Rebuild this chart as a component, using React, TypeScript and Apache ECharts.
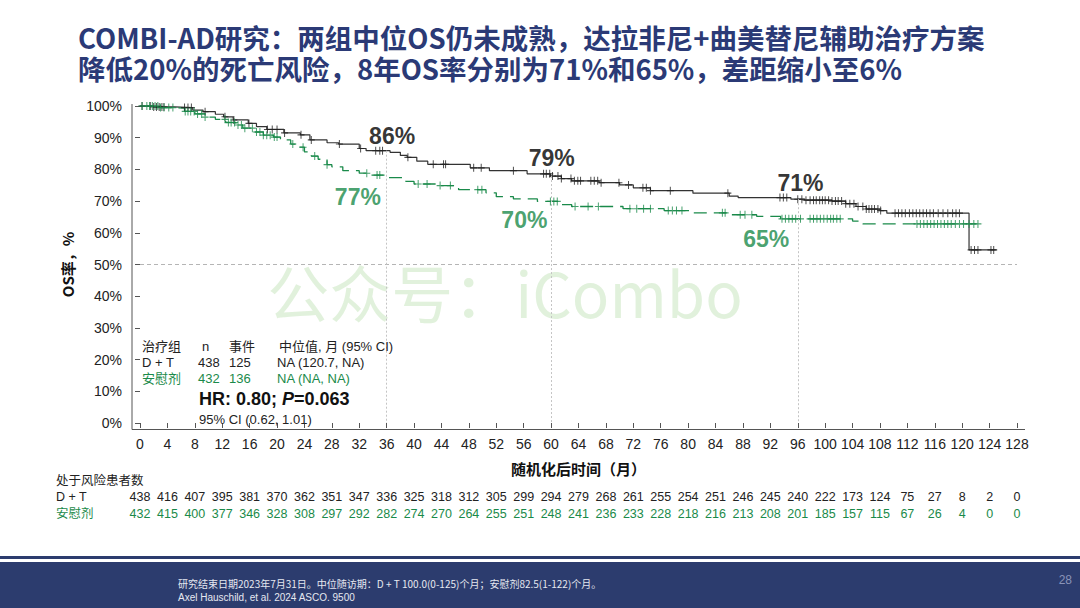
import React, { useEffect, useRef } from "react";
import * as echarts from "echarts";

// ---------- data ----------
const riskDT = [438, 416, 407, 395, 381, 370, 362, 351, 347, 336, 325, 318, 312, 305, 299, 294, 279, 268, 261, 255, 254, 251, 246, 245, 240, 222, 173, 124, 75, 27, 8, 2, 0];
const riskPbo = [432, 415, 400, 377, 346, 328, 308, 297, 292, 282, 274, 270, 264, 255, 251, 248, 241, 236, 233, 228, 218, 216, 213, 208, 201, 185, 157, 115, 67, 26, 4, 0, 0];

// KM steps: [month, survival % after the drop]
const dtSteps: [number, number][] = [
  [0, 100], [2, 99.7], [5, 99.5], [7.7, 98.7], [9.2, 98.2], [11, 97.4], [12.2, 96.6], [13.6, 95.6], [15.8, 94.5], [17, 93.5],
  [18.5, 92.6], [21, 91.5], [23.4, 90.9], [24.8, 89.3], [27.3, 88.4], [29, 88], [32, 86.6], [33, 85.9], [36.5, 85.4], [38, 84.4],
  [39, 83.8], [40.4, 82.6], [42, 81.6], [48.2, 80.5], [51, 79.6], [56.5, 78.6], [59.9, 77.9], [61.5, 77.1], [63, 76.4], [67, 75.8],
  [70, 75.1], [72, 74.2], [74.5, 73.3], [80.7, 72.5], [86, 71.6], [87.3, 71.1], [95, 70.6], [97, 70.3], [101, 70], [103, 69.2],
  [104.5, 68.3], [106, 67.5], [108, 67], [109, 66.2], [121, 54.6], [125, 54.6],
];
const pboSteps: [number, number][] = [
  [0, 100], [3, 99.5], [5, 99.3], [6.5, 98.3], [8, 97.5], [9.5, 96.5], [11, 95.8], [12.5, 94.8], [14, 94], [15, 93],
  [16.5, 91.8], [18, 90.8], [19.5, 90.2], [20.5, 89.3], [22, 88], [23, 87], [24, 85.5], [25, 84.2], [26, 83.2], [27.3, 81.5],
  [28, 80.8], [29.6, 79.6], [32, 78.8], [33.5, 78.2], [36, 77.4], [38.8, 76.2], [40, 75.4], [43.5, 74.9], [46.5, 73.6], [50.5, 72.6],
  [52, 71.4], [54.5, 70.7], [58, 69.9], [61.3, 68.9], [63, 68.3], [70.5, 67.6], [76.5, 67], [80.5, 66.3], [86, 65.7], [90, 65.2],
  [93.5, 64.4], [104, 63.7], [105.5, 62.8], [123, 62.8],
];

// censored observations (months)
const dtCensor = [0.3, 1.5, 2, 2.4, 2.8, 3.2, 3.5, 6.5, 7, 7.5, 9.5, 12.4, 13.7, 15.9, 18.6, 19.3, 20, 21.1, 23.5, 25, 29.1, 32.2, 34.4, 35, 35.4, 39.1, 42.8, 44.3, 44.6, 48.7, 49.8, 54.5, 58.9, 59.3, 59.8, 60.2, 61, 61.5, 62.9, 63.4, 63.9, 64.3, 65.8, 66.3, 66.8, 67.3, 69.9, 71.3, 73.4, 73.9, 74.5, 77.4, 85.8, 93.4, 93.9, 94.4, 96, 96.6, 97.2, 97.8, 98.3, 98.7, 99.2, 99.6, 100, 100.5, 101, 101.5, 101.9, 102.4, 103, 103.6, 104.2, 104.8, 105.5, 106, 106.4, 106.8, 107.2, 107.7, 108.1, 110.2, 110.7, 111.2, 111.7, 112.3, 112.8, 113.3, 113.8, 114.3, 114.8, 115.3, 115.8, 116.5, 117.2, 117.9, 118.6, 119.1, 119.6, 121.3, 121.8, 122.3, 124.2, 124.6];
const pboCensor = [0.3, 1, 1.4, 1.8, 2.2, 2.6, 3, 3.5, 4.2, 4.8, 6.6, 7, 7.4, 7.9, 8.4, 9, 9.5, 12.4, 12.9, 13.3, 13.8, 14.3, 14.8, 15.3, 16.4, 17, 17.5, 18, 18.5, 19, 19.6, 20, 22.3, 23.8, 25.5, 27.3, 33.1, 34.6, 35, 40.6, 41.9, 43.8, 45.3, 49.3, 49.9, 59.9, 60.4, 60.9, 63.5, 65.4, 66.9, 71.5, 72.5, 73.5, 74.5, 77.1, 77.7, 78.3, 79.1, 85, 85.4, 87.6, 88.3, 89.3, 93.7, 94.2, 94.7, 95.2, 95.7, 96.4, 97.8, 98.3, 98.8, 99.3, 99.8, 100.3, 100.8, 101.2, 101.7, 102.2, 113.4, 113.9, 114.4, 114.9, 115.4, 115.9, 116.4, 116.9, 117.4, 117.9, 118.4, 119, 119.6, 120.2, 121, 121.7, 122.3];

const landmarks = [36, 60, 96];
// reported landmark rates: [label x, label y, text, arm]
const rateLabels: [number, number, string, string][] = [
  [36.8, 90.5, "86%", "dt"], [31.8, 71.3, "77%", "pbo"],
  [60.1, 83.6, "79%", "dt"], [56.1, 64.0, "70%", "pbo"],
  [96.4, 75.7, "71%", "dt"], [91.4, 58.0, "65%", "pbo"],
];

const BLACK = "#222222";
const GREEN = "#1a8a4a";
const NAVY = "#2b3a76";
const PLUS = "path://M-1,-7h2v6h6v2h-6v6h-2v-6h-6v-2h6z";

function survivalAt(steps: [number, number][], t: number) {
  let s = steps[0][1];
  for (const [tt, v] of steps) {
    if (tt <= t) s = v;
    else break;
  }
  return s;
}

export default function App() {
  const ref = useRef<HTMLDivElement>(null);
  useEffect(() => {
    if (!ref.current) return;
    const chart = echarts.init(ref.current, null, { renderer: "svg" });
    const sans = "Liberation Sans, Arial, sans-serif";
    const cjk = "Noto Sans CJK SC, sans-serif";
    const riskAxis = (vals: number[], color: string, offset: number) => ({
      type: "value",
      min: 0,
      max: 128,
      interval: 4,
      position: "bottom",
      offset,
      axisLine: { show: false },
      axisTick: { show: false },
      splitLine: { show: false },
      axisLabel: {
        margin: 0,
        color,
        fontSize: 12.5,
        fontFamily: sans,
        formatter: (v: number) => String(vals[Math.round(v / 4)]),
      },
    });
    const option: any = {
      animation: false,
      backgroundColor: "#ffffff",
      grid: { left: 140, right: 63, top: 106, bottom: 185 },
      xAxis: [
        {
          type: "value",
          min: 0,
          max: 128,
          interval: 4,
          offset: 6,
          axisLine: { show: false },
          axisTick: { show: true, length: 5, lineStyle: { color: "#555" } },
          splitLine: { show: false },
          axisLabel: { color: "#222", fontSize: 14, fontFamily: "Liberation Sans Narrow, " + sans, margin: 8 },
          name: "随机化后时间（月）",
          nameLocation: "middle",
          nameGap: 32,
          nameTextStyle: { fontWeight: "bold", fontSize: 15, color: "#111", fontFamily: cjk },
        },
        riskAxis(riskDT, "#222", 67),
        riskAxis(riskPbo, GREEN, 84),
      ],
      yAxis: {
        type: "value",
        min: 0,
        max: 100,
        interval: 10,
        offset: 8,
        axisLine: { show: false },
        axisTick: { show: true, length: 5, lineStyle: { color: "#555" } },
        splitLine: { show: false },
        axisLabel: { color: "#222", fontSize: 14, fontFamily: sans, margin: 10, formatter: "{value}%" },
        name: "OS率，%",
        nameLocation: "middle",
        nameGap: 56,
        nameRotate: 90,
        nameTextStyle: { fontWeight: "bold", fontSize: 15, color: "#111", fontFamily: cjk },
      },
      series: [
        {
          type: "line",
          step: "end",
          data: dtSteps,
          showSymbol: false,
          lineStyle: { color: "#333", width: 1.2 },
          z: 3,
          markLine: {
            silent: true,
            symbol: "none",
            label: { show: false },
            data: [
              { yAxis: 50, lineStyle: { type: [4, 3], color: "#b5b5b5", width: 1 } },
              ...landmarks.map((m) => [
                { coord: [m, survivalAt(dtSteps, m)], lineStyle: { type: [2, 2], color: "#c4c4c4", width: 1 } },
                { coord: [m, 0] },
              ]),
            ],
          },
        },
        {
          type: "line",
          step: "end",
          data: pboSteps,
          showSymbol: false,
          lineStyle: { color: GREEN, width: 1.3, type: [13, 7] },
          z: 3,
        },
        {
          type: "scatter",
          data: dtCensor.map((t) => [t, survivalAt(dtSteps, t)]),
          symbol: PLUS,
          symbolSize: [7, 8],
          itemStyle: { color: BLACK },
          z: 4,
        },
        {
          type: "scatter",
          data: pboCensor.map((t) => [t, survivalAt(pboSteps, t)]),
          symbol: PLUS,
          symbolSize: [7, 8],
          itemStyle: { color: GREEN },
          z: 4,
        },
        {
          type: "scatter",
          symbolSize: 0,
          silent: true,
          z: 5,
          data: rateLabels.map(([x, y, txt, arm]) => ({
            value: [x, y],
            label: {
              show: true,
              position: "inside",
              formatter: txt,
              fontSize: 23,
              fontWeight: "bold",
              fontFamily: sans,
              color: arm === "dt" ? "#000" : GREEN,
            },
          })),
        },
      ],
      graphic: [
        // axis lines (extend past the data range as in the reference)
        { type: "line", shape: { x1: 132, y1: 104, x2: 132, y2: 429.5 }, style: { stroke: "#555", lineWidth: 1 } },
        { type: "line", shape: { x1: 132, y1: 429.5, x2: 1025, y2: 429.5 }, style: { stroke: "#555", lineWidth: 1 } },
        // title
        {
          type: "text",
          left: 78,
          top: 22,
          style: {
            text: "COMBI-AD研究：两组中位OS仍未成熟，达拉非尼+曲美替尼辅助治疗方案",
            font: "bold 27.5px 'Noto Sans CJK SC', sans-serif",
            lineHeight: 30,
            fill: NAVY,
          },
        },
        {
          type: "text",
          left: 78,
          top: 53,
          style: {
            text: "降低20%的死亡风险，8年OS率分别为71%和65%，差距缩小至6%",
            font: "bold 27.5px 'Noto Sans CJK SC', sans-serif",
            lineHeight: 30,
            fill: NAVY,
          },
        },
        // watermark
        {
          type: "text",
          x: 505,
          y: 291,
          style: {
            text: "公众号：iCombo",
            font: "62px 'Noto Sans CJK SC', sans-serif",
            lineHeight: 62,
            fill: "rgba(140,200,120,0.26)",
            align: "center",
            verticalAlign: "middle",
          },
          z: 0,
        },
        // legend table
        ...[
          ["治疗组", 142, 346, "#222"], ["n", 202, 346, "#222"], ["事件", 229, 346, "#222"], ["中位值, 月 (95% CI)", 279, 346, "#222"],
          ["D + T", 142, 362, "#222"], ["438", 198, 362, "#222"], ["125", 229, 362, "#222"], ["NA (120.7, NA)", 277, 362, "#222"],
          ["安慰剂", 142, 378, GREEN], ["432", 198, 378, GREEN], ["136", 229, 378, GREEN], ["NA (NA, NA)", 277, 378, GREEN],
          ["95% CI (0.62, 1.01)", 199, 419, "#222"],
        ].map(([t, x, y, c]) => ({
          type: "text",
          x,
          y,
          z: 10,
          style: { text: t, font: "13px 'Liberation Sans', 'Noto Sans CJK SC', sans-serif", fill: c, verticalAlign: "middle" },
        })),
        {
          type: "text",
          x: 199,
          y: 399,
          z: 10,
          style: {
            text: "{b|HR: 0.80; }{i|P}{b|=0.063}",
            verticalAlign: "middle",
            rich: {
              b: { font: "bold 18px 'Liberation Sans', sans-serif", fill: "#111" },
              i: { font: "italic bold 18px 'Liberation Sans', sans-serif", fill: "#111" },
            },
          },
        },
        // risk table labels
        ...[
          ["处于风险患者数", 481, "#222"],
          ["D + T", 497, "#222"],
          ["安慰剂", 514, GREEN],
        ].map(([t, y, c]) => ({
          type: "text",
          x: 56,
          y,
          style: { text: t, font: "12.5px 'Liberation Sans', 'Noto Sans CJK SC', sans-serif", fill: c, verticalAlign: "middle" },
        })),
        // footer
        { type: "rect", shape: { x: 0, y: 556, width: 1080, height: 3 }, style: { fill: "#2c3c6e" } },
        { type: "rect", shape: { x: 0, y: 562, width: 1080, height: 46 }, style: { fill: "#2c3c6e" } },
        {
          type: "text",
          x: 178,
          y: 583,
          style: {
            text: "研究结束日期2023年7月31日。中位随访期：D + T 100.0(0-125)个月；安慰剂82.5(1-122)个月。",
            font: "10px 'Noto Sans CJK SC', sans-serif",
            fill: "#e6e8f0",
            verticalAlign: "middle",
          },
        },
        {
          type: "text",
          x: 178,
          y: 597,
          style: {
            text: "Axel Hauschild, et al. 2024 ASCO. 9500",
            font: "10px 'Liberation Sans', sans-serif",
            fill: "#e6e8f0",
            verticalAlign: "middle",
          },
        },
        {
          type: "text",
          x: 1072,
          y: 580,
          style: { text: "28", font: "12px 'Liberation Sans', sans-serif", fill: "#8a93b8", align: "right", verticalAlign: "middle" },
        },
      ],
    };
    chart.setOption(option);
    return () => chart.dispose();
  }, []);
  return <div ref={ref} style={{ position: "absolute", left: 0, top: 0, width: 1080, height: 608 }} />;
}
